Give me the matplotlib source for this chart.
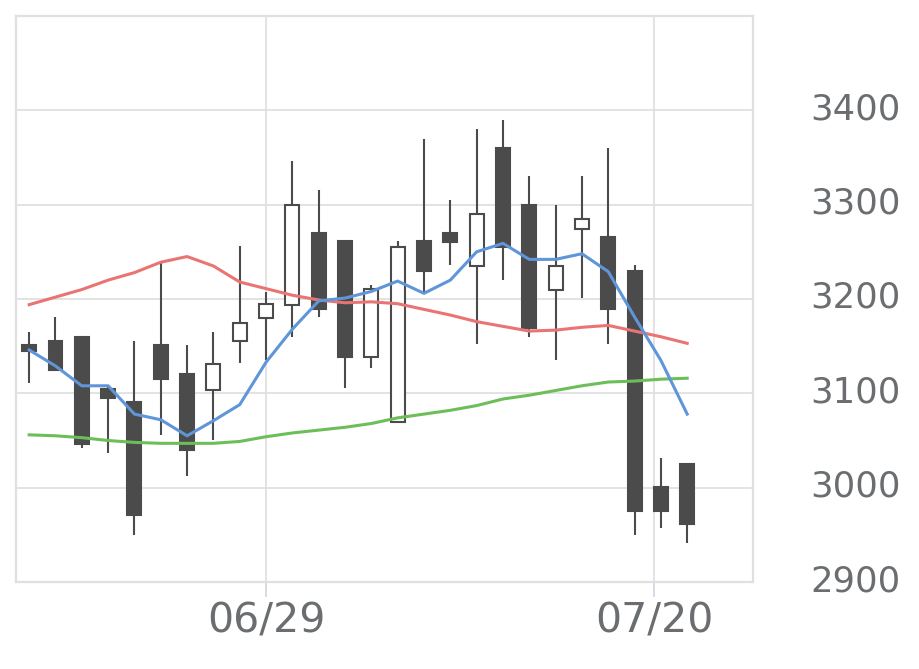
import matplotlib
matplotlib.use("Agg")
import matplotlib.pyplot as plt
from matplotlib.transforms import ScaledTranslation
import numpy as np

# daily OHLC
opens = [3151, 3156, 3160, 3105, 3091, 3151, 3121, 3104, 3156, 3180,
         3194, 3270, 3261, 3139, 3070, 3261, 3270, 3235, 3360, 3300,
         3210, 3274, 3266, 3230, 3001, 3025]
highs = [3165, 3181, 3160, 3109, 3156, 3240, 3151, 3165, 3256, 3207,
         3346, 3316, 3261, 3215, 3261, 3370, 3305, 3380, 3390, 3330,
         3300, 3330, 3360, 3236, 3031, 3025]
lows = [3111, 3125, 3042, 3037, 2950, 3056, 3012, 3051, 3132, 3135,
        3160, 3181, 3106, 3127, 3070, 3206, 3236, 3152, 3220, 3160,
        3135, 3201, 3152, 2950, 2957, 2941]
closes = [3145, 3125, 3046, 3095, 2971, 3115, 3040, 3131, 3175, 3195,
          3300, 3189, 3139, 3211, 3255, 3230, 3260, 3290, 3255, 3169,
          3235, 3285, 3189, 2975, 2975, 2962]

# moving averages
ma_short = [3146, 3129, 3108, 3108, 3078, 3072, 3055, 3071, 3088, 3133,
            3168, 3198, 3201, 3208, 3219, 3206, 3220, 3250, 3259, 3242,
            3242, 3248, 3229, 3181, 3135, 3078]
ma_mid = [3194, 3202, 3210, 3220, 3228, 3239, 3245, 3235, 3218, 3211,
          3204, 3199, 3196, 3197, 3195, 3189, 3183, 3176, 3171, 3166,
          3167, 3170, 3172, 3166, 3160, 3153]
ma_long = [3056, 3055, 3053, 3050, 3048, 3047, 3047, 3047, 3049, 3054,
           3058, 3061, 3064, 3068, 3074, 3078, 3082, 3087, 3094, 3098,
           3103, 3108, 3112, 3113, 3115, 3116]

date_ticks = [9, 23.75]
date_labels = ["06/29", "07/20"]
y_ticks = [2900, 3000, 3100, 3200, 3300, 3400]

dark = "#4b4b4b"
grid_col = "#e0e0e0"
text_col = "#6b6e70"

fig = plt.figure(figsize=(9.2, 6.69), dpi=100)
ax = fig.add_axes([16 / 920, 87 / 669, 737 / 920, 566 / 669])

x = np.arange(len(opens))
o = np.array(opens)
c = np.array(closes)
up = c > o

ax.vlines(x, lows, highs, color=dark, lw=1.5, zorder=3)
bottoms = np.minimum(o, c)
heights = np.maximum(np.abs(c - o), 1)
face = np.where(up, "white", dark)
ax.bar(x, heights, bottom=bottoms, width=0.53, color=face,
       edgecolor=dark, linewidth=1.5, zorder=4)

ax.plot(x, ma_long, color="#6cbf58", lw=2.2, zorder=5)
ax.plot(x, ma_mid, color="#ea7474", lw=2.2, zorder=5)
ax.plot(x, ma_short, color="#5f95d9", lw=2.2, zorder=5)

ax.set_xlim(-0.5, 27.5)
ax.set_ylim(2900, 3500)

ax.yaxis.tick_right()
ax.set_yticks(y_ticks)
ax.tick_params(axis="y", length=0, pad=41, labelsize=25.5, labelcolor=text_col)
ax.set_xticks(date_ticks)
ax.set_xticklabels(date_labels)
ax.tick_params(axis="x", length=11, width=1.2, color="#cdd6e2", pad=3,
               labelsize=29.5, labelcolor=text_col)
shift = ScaledTranslation(0, 4.5 / 100, fig.dpi_scale_trans)
for lab in ax.get_yticklabels():
    lab.set_verticalalignment("center_baseline")
    lab.set_transform(lab.get_transform() + shift)

ax.grid(True, color=grid_col, lw=1.3, zorder=0)
ax.set_axisbelow(True)
for s in ax.spines.values():
    s.set_color(grid_col)
    s.set_linewidth(1.6)

fig.savefig("out.png", dpi=100)
